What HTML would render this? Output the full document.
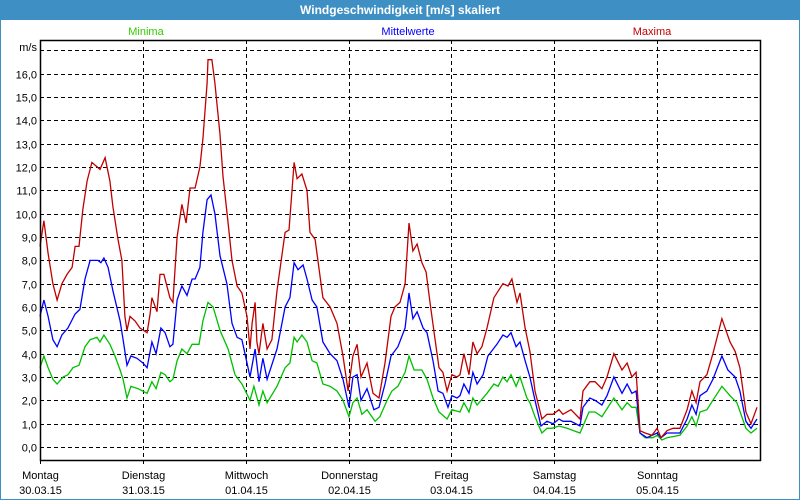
<!DOCTYPE html>
<html><head><meta charset="utf-8"><style>
html,body{margin:0;padding:0;background:#fff;}
#wrap{position:relative;width:800px;height:500px;overflow:hidden;font-family:"Liberation Sans",sans-serif;}
svg text{font-family:"Liberation Sans",sans-serif;}
</style></head><body>
<div id="wrap">
<svg id="chart" width="800" height="500" xmlns="http://www.w3.org/2000/svg">
<rect x="0" y="0" width="800" height="500" fill="#fff"/>
<rect x="0" y="0" width="800" height="20" fill="#3d8fc4"/>
<rect x="0.5" y="0.5" width="799" height="499" fill="none" stroke="#3d8fc4"/>
<text x="400" y="14" text-anchor="middle" font-size="12" font-weight="bold" fill="#fff">Windgeschwindigkeit [m/s] skaliert</text>
<text x="146" y="35" text-anchor="middle" font-size="11" fill="#33cc00">Minima</text>
<text x="408" y="35" text-anchor="middle" font-size="11" fill="#0000ff">Mittelwerte</text>
<text x="652" y="35" text-anchor="middle" font-size="11" fill="#c00000">Maxima</text>
<text x="37" y="51" text-anchor="end" font-size="11" fill="#000">m/s</text>
<g id="grid"></g><g id="series"></g><g id="axes"></g>
</svg>
</div>
<script>
const yTicks=[0,1,2,3,4,5,6,7,8,9,10,11,12,13,14,15,16,17];
const dayNames=["Montag","Dienstag","Mittwoch","Donnerstag","Freitag","Samstag","Sonntag"];
const dayDates=["30.03.15","31.03.15","01.04.15","02.04.15","03.04.15","04.04.15","05.04.15"];
const maxHours=[0,0.9,1.9,3.0,4.0,5.1,6.3,7.5,8.2,9.1,10.0,11.0,12.1,14.0,15.2,16.3,17.0,18.2,19.1,19.8,20.3,21.0,22.2,23.3,25.0,25.7,26.1,27.3,28.0,28.9,30.3,31.0,32.0,33.1,34.1,35.0,36.2,37.3,38.0,39.0,39.2,40.1,40.8,42.0,42.7,43.9,44.8,46.0,47.1,48.3,49.0,49.5,50.2,50.6,51.1,52.0,53.0,54.1,55.3,57.2,58.1,58.8,59.3,60.0,61.1,62.3,63.0,64.2,66.0,67.7,69.3,70.7,71.9,73.0,74.0,74.9,76.3,77.7,79.1,80.5,81.9,82.8,84.0,85.2,86.1,87.0,88.0,89.1,90.1,91.0,92.2,93.1,94.0,95.0,96.1,97.3,98.0,98.9,100.1,101.0,102.0,103.1,104.3,105.9,108.0,109.2,110.1,111.3,112.0,113.2,114.3,115.5,117.1,118.3,119.7,121.1,122.0,123.9,126.0,126.7,128.3,129.5,131.1,132.3,133.9,135.8,137.0,138.1,139.1,140.0,141.2,142.8,144.0,144.9,146.3,147.7,149.3,151.0,152.1,153.1,154.0,155.6,157.0,159.1,161.0,162.2,163.3,164.7,165.9,167.3];
const maxValues=[8.6,9.7,8.3,7.0,6.3,7.0,7.4,7.7,8.6,8.6,10.2,11.4,12.2,11.9,12.4,11.4,10.3,8.9,8.0,5.6,5.0,5.6,5.4,5.1,4.9,5.7,6.4,5.8,7.4,7.4,6.4,6.2,9.0,10.4,9.6,11.1,11.1,12.0,13.2,15.6,16.6,16.6,15.6,13.4,11.6,9.6,8.0,6.9,6.6,5.6,4.2,5.3,6.2,4.5,4.0,5.3,4.2,4.6,6.7,9.2,9.3,11.0,12.2,11.5,11.7,11.0,9.2,8.9,6.4,6.0,5.3,3.9,2.4,3.9,4.4,3.0,3.6,2.3,2.1,3.6,5.6,6.0,6.2,7.0,9.6,8.4,8.7,7.9,7.5,6.2,4.6,3.4,3.2,2.4,3.1,3.0,3.1,4.0,3.1,4.5,4.0,4.3,5.1,6.4,7.0,6.9,7.2,6.2,6.6,5.1,4.1,2.4,1.2,1.4,1.4,1.6,1.4,1.6,1.2,2.4,2.8,2.8,2.5,3.0,4.0,3.3,3.6,3.0,3.2,0.7,0.6,0.5,0.8,0.4,0.7,0.8,0.8,1.6,2.4,1.9,2.8,3.1,4.0,5.5,4.5,4.1,3.4,1.5,1.0,1.7];
const meanHours=[0,0.9,1.9,3.0,4.0,5.1,6.5,8.2,9.3,10.5,11.7,13.5,14.2,14.9,15.9,17.0,18.7,19.4,20.3,21.2,22.6,24.0,25.0,26.1,27.1,28.2,29.2,30.3,31.0,32.0,33.1,34.3,35.5,36.2,37.3,38.0,39.0,39.9,40.8,42.0,43.6,44.8,46.0,47.1,48.3,49.0,50.2,51.1,52.0,53.0,55.3,57.2,58.3,59.3,60.2,61.4,62.3,63.5,64.6,66.0,67.7,69.3,70.7,72.1,73.0,74.0,74.9,76.3,77.9,79.1,80.5,81.9,83.5,85.2,86.1,87.0,88.0,89.4,90.3,91.7,92.9,94.0,95.2,96.1,97.3,98.0,98.9,100.1,101.0,102.0,103.4,104.5,106.6,108.0,109.0,109.9,111.1,112.0,113.2,114.3,115.5,116.9,118.3,119.7,121.1,122.0,123.9,126.0,126.7,128.3,129.5,131.1,132.3,133.9,135.8,137.0,138.1,139.1,140.0,141.6,144.0,144.9,146.3,149.3,151.0,152.1,153.1,154.0,155.6,157.0,159.1,160.5,162.2,163.3,164.7,165.9,167.3];
const meanValues=[5.6,6.3,5.6,4.6,4.3,4.8,5.1,5.7,5.9,7.2,8.0,8.0,7.9,8.1,7.7,6.7,5.4,4.6,3.5,3.9,3.8,3.6,3.4,4.5,4.0,5.1,4.9,4.3,4.4,6.3,6.9,6.5,7.2,7.2,7.7,9.2,10.6,10.8,10.0,8.2,7.0,5.3,4.7,4.6,3.6,3.0,4.2,2.8,3.8,2.9,4.2,6.0,6.4,7.9,7.6,7.8,7.2,6.3,6.0,4.5,4.0,3.7,2.9,1.7,3.0,3.1,2.0,2.5,1.6,1.7,2.7,3.9,4.3,5.1,6.6,5.5,5.8,5.1,4.9,3.7,2.4,2.3,1.7,2.2,2.1,2.2,2.7,2.3,3.2,2.7,3.1,3.9,4.4,4.8,4.7,4.9,4.3,4.5,3.7,3.0,2.0,0.9,1.1,1.0,1.2,1.1,1.1,0.9,1.7,2.1,2.0,1.8,2.2,3.0,2.3,2.7,2.3,2.4,0.6,0.4,0.6,0.4,0.6,0.6,1.2,1.8,1.4,2.2,2.4,2.9,3.9,3.3,3.0,2.4,1.1,0.8,1.2];
const minHours=[0,0.9,1.9,3.0,4.0,5.4,6.5,7.7,9.1,10.5,11.7,13.3,14.0,14.9,16.3,17.5,18.7,19.4,20.3,21.2,22.9,25.0,26.1,27.1,28.2,29.2,30.3,31.0,32.0,33.1,34.3,35.5,37.1,38.0,39.2,40.4,42.0,43.9,45.5,47.1,49.0,49.9,51.1,52.0,53.0,55.3,57.2,58.3,59.3,60.0,61.1,62.3,63.5,64.6,66.0,67.7,69.3,70.7,72.1,73.0,74.0,75.1,76.3,78.2,79.3,81.0,82.1,83.5,85.2,86.1,87.3,89.1,90.3,91.7,93.1,95.0,96.1,98.0,98.9,100.1,101.0,102.0,104.3,105.9,106.9,108.0,109.0,109.9,111.1,112.0,113.6,114.3,115.5,117.1,118.3,119.5,121.1,123.0,126.0,128.1,129.5,131.1,133.9,135.8,137.0,138.1,139.1,140.0,141.2,143.0,144.0,145.1,146.3,149.3,151.0,152.1,153.1,154.0,155.6,157.0,159.1,161.0,162.6,164.7,165.9,167.3];
const minValues=[3.4,3.9,3.4,2.9,2.7,3.0,3.1,3.4,3.5,4.3,4.6,4.7,4.5,4.8,4.4,3.9,3.3,2.9,2.1,2.6,2.5,2.3,2.8,2.5,3.2,3.1,2.8,2.9,3.7,4.2,4.0,4.4,4.4,5.4,6.2,6.0,5.0,4.2,3.1,2.7,2.0,2.6,1.8,2.4,1.9,2.6,3.4,3.6,4.7,4.5,4.8,4.5,3.7,3.6,2.7,2.6,2.4,2.0,1.3,1.9,2.1,1.4,1.6,1.1,1.3,2.0,2.4,2.6,3.2,3.9,3.3,3.3,2.9,2.1,1.5,1.2,1.6,1.5,1.9,1.5,2.1,1.8,2.3,2.7,2.6,3.0,2.8,3.1,2.6,3.0,2.1,1.9,1.3,0.6,0.8,0.8,0.9,0.8,0.6,1.5,1.5,1.3,2.1,1.6,1.9,1.7,1.7,0.6,0.4,0.4,0.5,0.3,0.4,0.5,0.9,1.3,0.9,1.5,1.6,2.0,2.6,2.2,1.9,0.8,0.6,0.8];

const NS="http://www.w3.org/2000/svg";
const L=40,R=760,T=40,B=460,Y0=447,YS=23.33,TOTAL=168;
function xScale(h){return L+(R-L)*h/TOTAL;}
function yScale(v){return Y0-v*YS;}
function mk(tag,attrs,parent){const e=document.createElementNS(NS,tag);for(const k in attrs)e.setAttribute(k,attrs[k]);parent.appendChild(e);return e;}
const grid=document.getElementById('grid'),series=document.getElementById('series'),axes=document.getElementById('axes');
yTicks.forEach(v=>{
  const y=Math.round(yScale(v))+0.5;
  const gl=mk('line',{x1:L,x2:R,y1:y,y2:y,stroke:'#000','stroke-width':1,'stroke-dasharray':'4,3'},grid);
  
  
  if(v<17){
    const t=mk('text',{x:37,y:y+4,'text-anchor':'end','font-size':11,fill:'#000'},axes);
    t.textContent=v.toFixed(1).replace('.',',');
    
    
  }
});
dayNames.forEach((d,i)=>{
  const x=Math.round(xScale(i*24))+0.5;
  if(i>0){
    const vl=mk('line',{x1:x,x2:x,y1:T,y2:B,stroke:'#000','stroke-width':1,'stroke-dasharray':'4,3'},grid);
    
    
  }
  const tk=mk('line',{x1:x,x2:x,y1:B,y2:B+4,stroke:'#000'},axes);
  
  
  const t1=mk('text',{x:x,y:479,'text-anchor':'middle','font-size':11,fill:'#000'},axes);
  t1.textContent=d;
  
  
  const t2=mk('text',{x:x,y:494,'text-anchor':'middle','font-size':11,fill:'#000'},axes);
  t2.textContent=dayDates[i];
  
  
});
function drawLine(hours,vals,color,name){
  const pts=hours.map((h,i)=>xScale(h).toFixed(1)+','+yScale(vals[i]).toFixed(1)).join(' ');
  const p=mk('polyline',{points:pts,fill:'none',stroke:color,'stroke-width':1.3,'stroke-linejoin':'miter'},series);
  
  
}
drawLine(minHours,minValues,'#00c000','minima-line');
drawLine(meanHours,meanValues,'#0000ff','mittelwerte-line');
drawLine(maxHours,maxValues,'#c00000','maxima-line');
const frame=mk('rect',{x:L+0.5,y:T+0.5,width:R-L,height:B-T,fill:'none',stroke:'#000','stroke-width':1.5},axes);


</script>
</body></html>
